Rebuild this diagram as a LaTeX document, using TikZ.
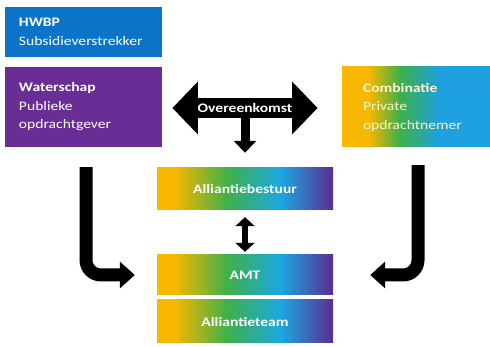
\documentclass[tikz,border=0pt]{standalone}
\usepackage{fontspec}
\setmainfont[FakeStretch=1.2]{Carlito}
\usetikzlibrary{arrows.meta}
\definecolor{hwbpblue}{RGB}{12,116,200}
\definecolor{wspurple}{RGB}{104,46,150}
\definecolor{gorange}{RGB}{248,183,0}
\definecolor{ggreen}{RGB}{62,176,74}
\definecolor{gcyan}{RGB}{27,168,225}
\definecolor{gpurple}{RGB}{92,44,145}
\definecolor{gblue}{RGB}{30,160,225}
\definecolor{pale}{RGB}{255,246,205}
\pgfdeclarehorizontalshading{alli}{100bp}{color(0bp)=(gorange); color(30bp)=(gorange); color(45bp)=(ggreen); color(60bp)=(gcyan); color(75bp)=(gpurple); color(100bp)=(gpurple)}
\pgfdeclarehorizontalshading{comb}{100bp}{color(0bp)=(gorange); color(34bp)=(gorange); color(44.5bp)=(ggreen); color(58bp)=(gblue); color(75bp)=(gblue); color(100bp)=(gblue)}
\tikzset{
  topbox/.style={inner xsep=14pt, inner ysep=0pt, text width=129pt, align=left, minimum width=157pt, text=white, font=\fontsize{13}{18.5}\selectfont},
  midbox/.style={shading=alli, minimum width=176pt, text=white, font=\bfseries\fontsize{13}{15}\selectfont, inner sep=0pt},
  bent/.style={line width=13pt, rounded corners=15pt, -{Triangle[length=15pt,width=26pt]}},
}
\begin{document}
\begin{tikzpicture}[x=1pt,y=-1pt]
\useasboundingbox (0,0) rectangle (490,347);
\node[topbox, fill=hwbpblue, minimum height=50pt] (hwbp) at (83.5,32) {\textbf{HWBP}\\Subsidieverstrekker};
\node[topbox, fill=wspurple, minimum height=80pt] (water) at (83.5,107) {\textbf{Waterschap}\\Publieke\\opdrachtgever};
\node[topbox, shading=comb, minimum width=148pt, text width=106pt, inner xsep=21pt, minimum height=80pt, text=pale] (comb) at (416,107) {\textbf{Combinatie}\\Private\\opdrachtnemer};
\node[midbox, minimum height=42pt] (bestuur) at (245,189) {Alliantiebestuur};
\node[midbox, minimum height=40pt] (amt) at (245,275) {AMT};
\node[midbox, minimum height=43pt] (team) at (245,321.5) {Alliantieteam};
% Overeenkomst double arrow
\node[fill=black, minimum width=90pt, minimum height=20pt, inner sep=0pt, text=white, font=\bfseries\fontsize{13}{15}\selectfont] (agree) at (245,108) {Overeenkomst};
\fill (agree.west) ++(0.5,-26.5) -- ++(-25.5,26.5) -- ++(25.5,26.5) -- cycle;
\fill (agree.east) ++(-0.5,-26.5) -- ++(25.5,26.5) -- ++(-25.5,26.5) -- cycle;
\draw[line width=9pt, -{Triangle[length=12pt,width=22pt]}, shorten >=15pt] (agree.south) -- (bestuur.north);
\draw[line width=6pt, {Triangle[length=9pt,width=19pt]}-{Triangle[length=9pt,width=19pt]}, shorten <=7pt, shorten >=3pt] (bestuur.south) -- (amt.north);
\draw[bent, shorten >=22pt] ([xshift=2.5pt,yshift=-20pt]water.south) |- (amt.west);
\draw[bent, shorten >=37pt] ([xshift=2pt,yshift=-18pt]comb.south) |- (amt.east);
\end{tikzpicture}
\end{document}
